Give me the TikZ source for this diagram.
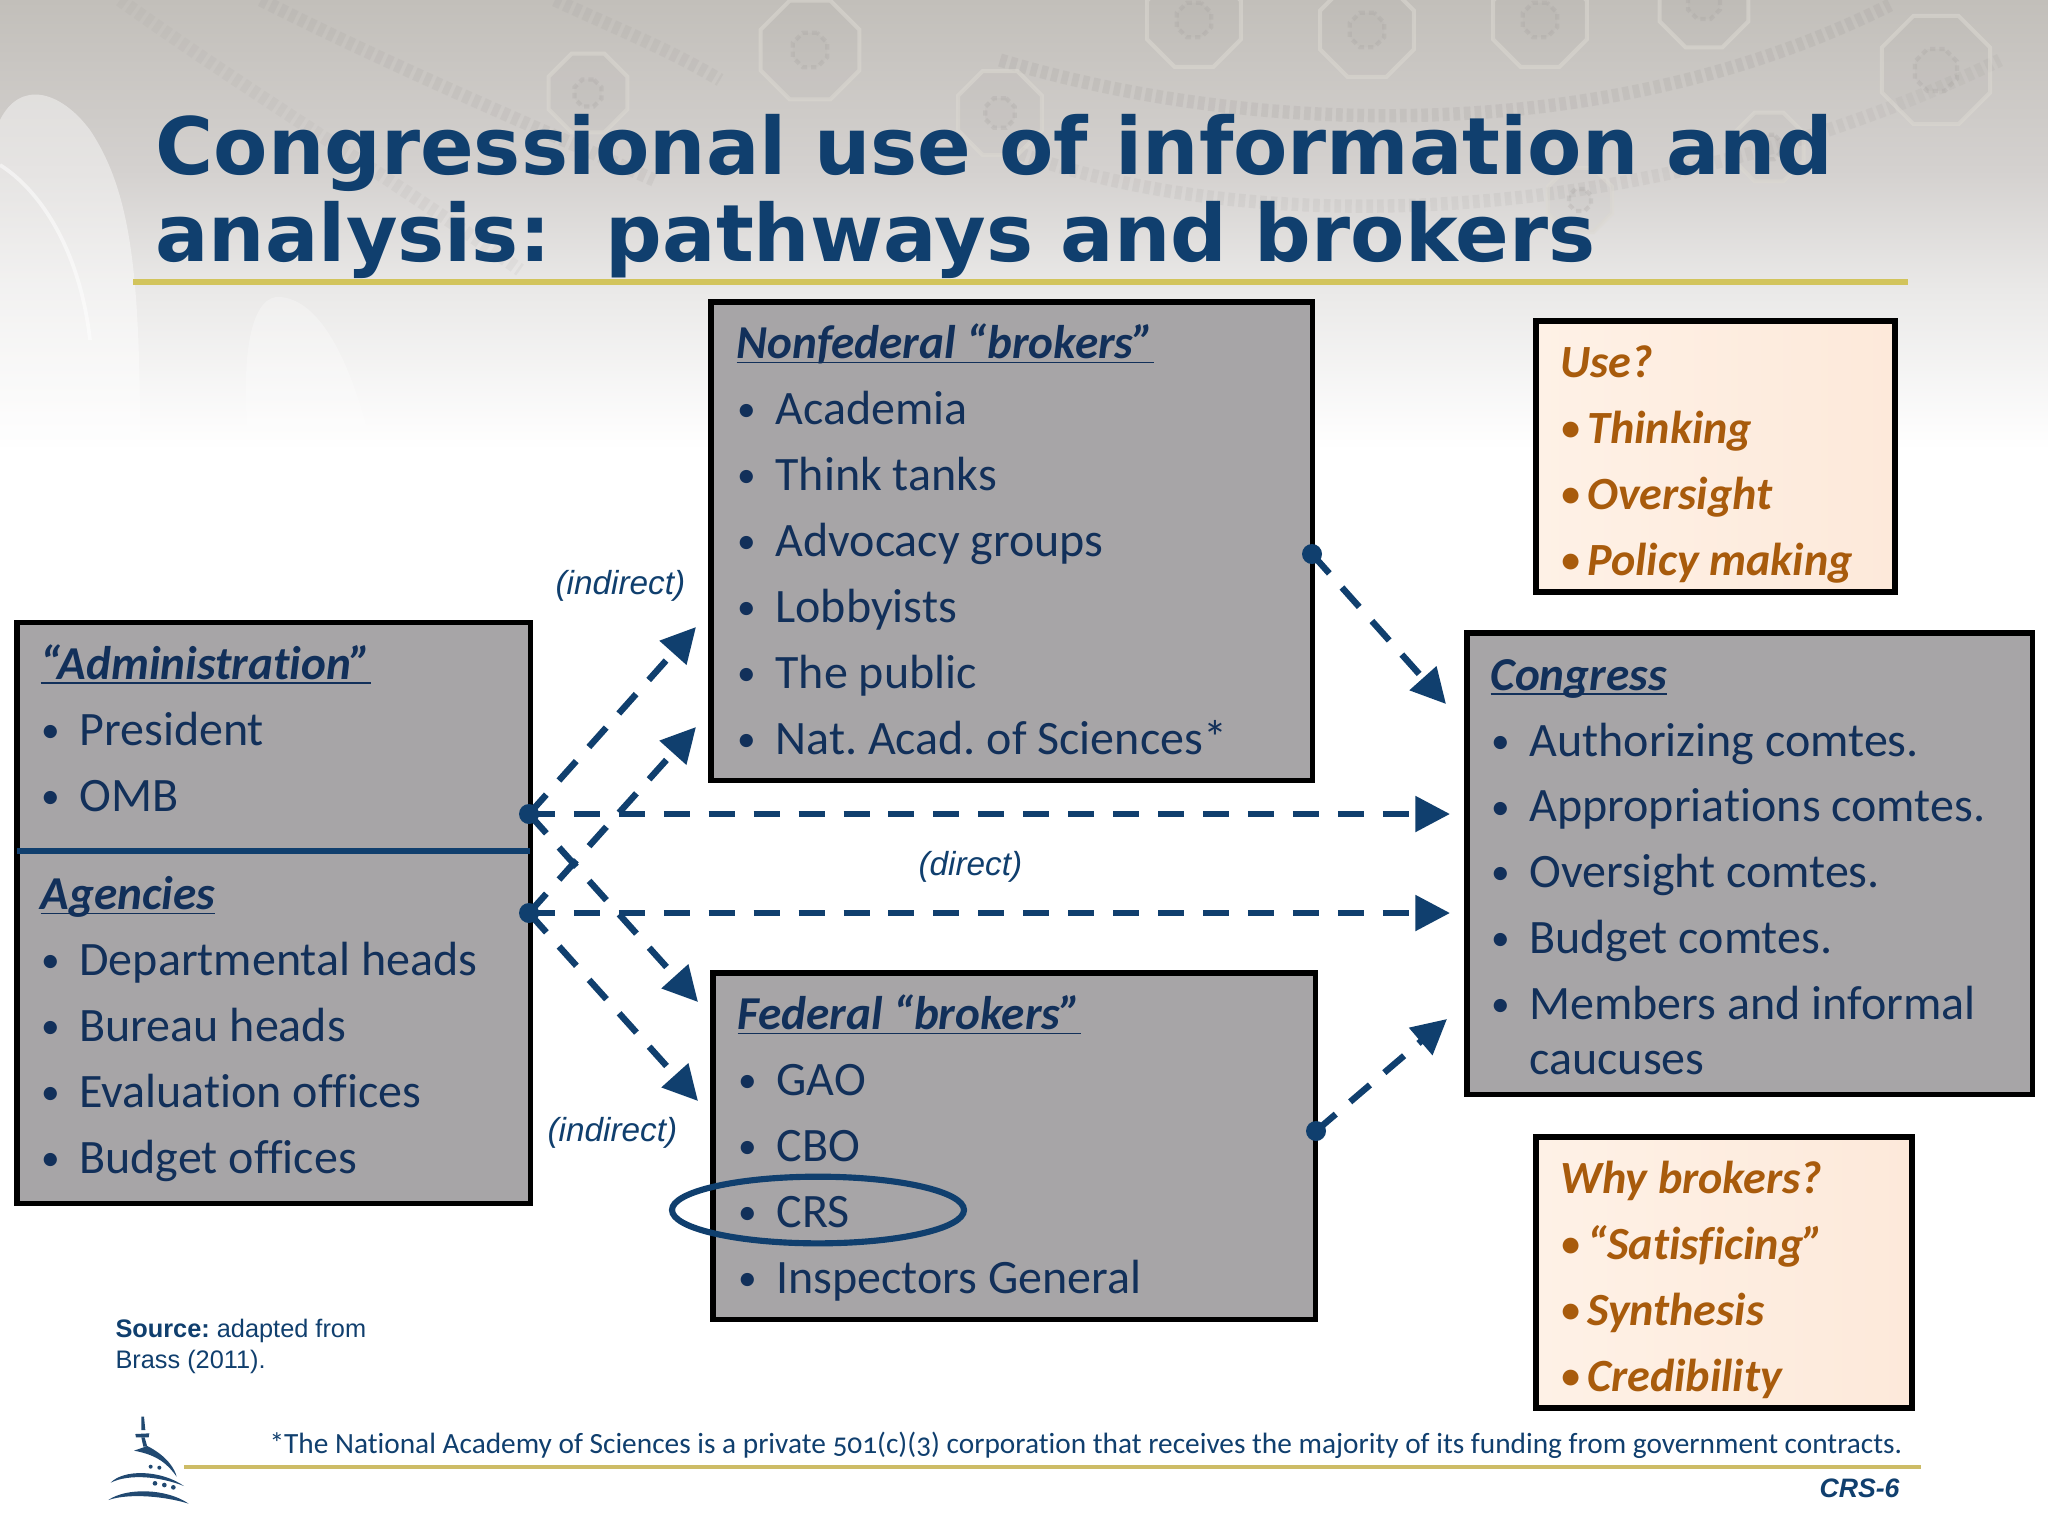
\documentclass[tikz,border=0pt]{standalone}
\usepackage{fontspec}
\setmainfont{Carlito}[Ligatures=NoCommon]
\newfontfamily\titlefont{DejaVu Sans}
\newfontfamily\arialfont{Liberation Sans}
\usetikzlibrary{arrows.meta,shapes.geometric}
\AtBeginDocument{\frenchspacing}
\definecolor{navy}{HTML}{103F6E}
\definecolor{inknavy}{HTML}{12305A}
\definecolor{panelgray}{HTML}{A7A5A7}
\definecolor{peach}{HTML}{FDE9DA}
\definecolor{peachlight}{HTML}{FEF1E6}
\definecolor{ochre}{HTML}{A85B0C}
\definecolor{gold}{HTML}{D2C45C}
\definecolor{footgold}{HTML}{CDBC66}
\definecolor{ornament}{HTML}{A09C9A}
\definecolor{ornlight}{HTML}{DCD9D2}
\newcommand{\hd}[1]{\underline{\smash{\textbf{\textit{\fontsize{17.7}{24.7}\selectfont #1}}}}}
\newcommand{\smallbullet}{\raisebox{1.1pt}{\fontsize{14}{14}\selectfont\textbullet}}
\newcommand{\gb}{\hbox to 14.6pt{\kern0.2pt\smallbullet\hfil}}
\newcommand{\ob}{\hbox to 10pt{\kern0.3pt\smallbullet\hfil}}
\tikzset{
  x=0.375pt,y=-0.375pt,
  panel/.style={draw=black,line width=1.9pt,fill=panelgray,anchor=north west,inner sep=0pt,outer sep=0pt},
  askbox/.style={draw=black,line width=2.25pt,left color=peachlight,right color=peach,anchor=north west,inner sep=0pt,outer sep=0pt},
  paneltext/.style={anchor=base west,align=left,inner sep=0pt,text=inknavy,font=\fontsize{18}{24.7}\selectfont},
  asktext/.style={anchor=base west,align=left,inner sep=0pt,text=ochre,font=\fontsize{17.3}{24.7}\selectfont\bfseries\itshape},
  conn/.style={draw=navy,line width=2.4pt,dash pattern=on 9.75pt off 7.1pt,-{Triangle[length=13pt,width=13pt]}},
  dot/.style={circle,fill=navy,minimum size=7.5pt,inner sep=0pt},
  pathlabel/.style={anchor=base west,inner sep=0pt,text=navy,font=\arialfont\itshape\fontsize{12.5}{14}\selectfont},
  rosette/.style={regular polygon,regular polygon sides=8,draw=ornlight,fill=ornament,fill opacity=.07,draw opacity=.55,line width=1.5pt,inner sep=0pt},
  rosetteinner/.style={regular polygon,regular polygon sides=8,draw=ornament,fill=ornament,fill opacity=.07,draw opacity=.22,line width=1.6pt,dash pattern=on 2pt off 1.5pt,inner sep=0pt},
  band/.style={draw=ornament,draw opacity=.2,line width=5pt,dash pattern=on 2.5pt off 1.5pt},
}
\begin{document}
\begin{tikzpicture}
\useasboundingbox (0,0) rectangle (2048,1536);
% background
\fill[white] (0,0) rectangle (2048,1536);
\shade[top color={rgb,255:red,194;green,191;blue,186},bottom color={rgb,255:red,212;green,209;blue,207}] (0,0) rectangle (2048,170);
\shade[top color={rgb,255:red,212;green,209;blue,207},bottom color={rgb,255:red,234;green,233;blue,232}] (0,170) rectangle (2048,290);
\shade[top color={rgb,255:red,234;green,233;blue,232},bottom color=white] (0,290) rectangle (2048,450);
\begin{scope}
\clip (0,0) rectangle (2048,320);
\draw[band] (1000,60) .. controls (1250,135) and (1600,150) .. (1890,5);
\draw[band,draw opacity=.13] (1010,150) .. controls (1250,240) and (1650,230) .. (2000,60);
\draw[band,draw opacity=.15] (555,0) .. controls (620,30) and (670,50) .. (720,80);
\draw[band,draw opacity=.15] (261,0) .. controls (400,70) and (520,120) .. (654,180);
\draw[band,draw opacity=.1] (120,0) .. controls (260,100) and (380,170) .. (520,270);
\foreach \n/\px/\py/\w/\h in {a/810/50/40/14,b/588/93/32/11,c/1000/113/34/12,d/1194/20/38/14,e/1367/30/38/14,f/1540/20/38/14,g/1704/3/36/13,h/1936/70/44/17,i/1769/147/28/10,j/1580/200/26/9}{
  \node[rosette,minimum size=\w pt] (r\n) at (\px,\py) {};
  \node[rosetteinner,minimum size=\h pt] (s\n) at (\px,\py) {};
}
\end{scope}
\fill[white,opacity=.42] (0,120) .. controls (20,80) and (60,90) .. (90,130) .. controls (130,190) and (140,270) .. (140,440) -- (0,440) -- cycle;
\draw[white,opacity=.5,line width=1.4pt] (0,165) .. controls (40,190) and (80,250) .. (90,340);
\fill[white,opacity=.28] (248,440) .. controls (240,340) and (255,295) .. (280,297) .. controls (320,300) and (350,360) .. (370,440) -- cycle;
% title
\node[anchor=base west,inner sep=0pt,text=navy,font=\titlefont\bfseries\fontsize{29.7}{32.3}\selectfont,align=left] (title) at (155,261) {Congressional use of information and\\analysis:\ \ pathways and brokers};
\coordinate (ruleL) at (133,282); \coordinate (ruleR) at (1908,282);
\draw[gold,line width=1.9pt] (ruleL) -- (ruleR);
% panels
\node[panel,minimum width=192.4pt,minimum height=217.7pt] (adm) at (17,622.5) {};
\node[panel,minimum width=225.7pt,minimum height=179.5pt] (nonfed) at (711,302) {};
\node[panel,minimum width=226.1pt,minimum height=130.1pt] (fed) at (713,973) {};
\node[panel,minimum width=212pt,minimum height=172.9pt] (cong) at (1467,633) {};
\node[askbox,minimum width=134.7pt,minimum height=101.6pt] (use) at (1536,321) {};
\node[askbox,minimum width=141pt,minimum height=101.6pt] (why) at (1536,1137) {};
\coordinate (sepL) at (adm.west |- 0,851); \coordinate (sepR) at (adm.east |- 0,851);
\draw[navy,line width=2.2pt] (sepL) -- (sepR);
% panel texts
\node[paneltext] (admtxt) at (40,811) {\hd{“Administration”}\\\gb President\\\gb OMB};
\node[paneltext] (agtxt) at (40,1173) {\hd{Agencies}\\\gb Departmental heads\\\gb Bureau heads\\\gb Evaluation offices\\\gb Budget offices};
\node[paneltext] (nftxt) at (736,754) {\hd{Nonfederal “brokers”}\\\gb Academia\\\gb Think tanks\\\gb Advocacy groups\\\gb Lobbyists\\\gb The public\\\gb Nat. Acad. of Sciences*};
\node[paneltext] (fedtxt) at (737,1293) {\hd{Federal “brokers”}\\\gb GAO\\\gb CBO\\\gb CRS\\\gb Inspectors General};
\node[paneltext] (congtxt) at (1490,1074.5) {\hd{Congress}\\\gb Authorizing comtes.\\\gb Appropriations comtes.\\\gb Oversight comtes.\\\gb Budget comtes.\\\gb Members and informal\\[-4.1pt]\hbox to 14.6pt{\hfil}caucuses};
\node[asktext] (usetxt) at (1560,575) {Use?\\\ob Thinking\\\ob Oversight\\\ob Policy making};
\node[asktext] (whytxt) at (1560,1391) {Why brokers?\\\ob “Satisficing”\\\ob Synthesis\\\ob Credibility};
% CRS ring
\node[ellipse,draw=navy,line width=2.3pt,minimum width=109.5pt,minimum height=25pt,inner sep=0pt] (ring) at (818,1210) {};
% connectors
\node[dot] (d1) at (529,814) {};
\node[dot] (d2) at (529,913) {};
\node[dot] (d3) at (1312,554) {};
\node[dot] (d4) at (1316,1131) {};
\coordinate (t1) at (696,627);
\coordinate (t2) at (696,727);
\coordinate (t3) at (698,1002);
\coordinate (t4) at (698,1101);
\coordinate (t5) at (1450,814);
\coordinate (t6) at (1450,913);
\coordinate (t7) at (1446,704);
\coordinate (t8) at (1447,1019);
\draw[conn] (d1.center) -- (t1);
\draw[conn] (d2.center) -- (t2);
\draw[conn] (d1.center) -- (t3);
\draw[conn] (d2.center) -- (t4);
\draw[conn] (d1.center) -- (t5);
\draw[conn] (d2.center) -- (t6);
\draw[conn] (d3.center) -- (t7);
\draw[conn] (d4.center) -- (t8);
\node[pathlabel] (l1) at (555,594) {(indirect)};
\node[pathlabel] (l2) at (547,1141) {(indirect)};
\node[pathlabel] (l3) at (918,875) {(direct)};
% source
\node[anchor=base west,inner sep=0pt,align=left,text=navy,font=\arialfont\fontsize{9.5}{11.6}\selectfont] (src) at (115,1368) {\textbf{Source:} adapted from\\Brass (2011).};
% footer
\coordinate (footL) at (184,1467); \coordinate (footR) at (1921,1467);
\draw[footgold,line width=1.7pt] (footL) -- (footR);
\node[anchor=base west,inner sep=0pt,text=navy,font=\fontsize{11}{13}\selectfont] (foot) at (269,1453) {\addfontfeature{Numbers=OldStyle}*The National Academy of Sciences is a private 501(c)(3) corporation that receives the majority of its funding from government contracts.};
\node[anchor=base west,inner sep=0pt,text=navy,font=\arialfont\bfseries\itshape\fontsize{10}{12}\selectfont] (crs) at (1819,1497) {CRS-6};
% capitol logo
\begin{scope}[shift={(60,1300)},x=0.125pt,y=-0.125pt,navy!85!gray]
\fill (244,350) -- (252,350) -- (256,390) -- (244,390) -- cycle;
\fill (226,402) -- (268,400) -- (266,412) -- (228,412) -- cycle;
\fill (244,412) -- (254,412) -- (262,440) -- (250,440) -- cycle;
\fill (222,452) -- (262,438) .. controls (325,470) and (345,510) .. (350,530) .. controls (325,495) and (295,465) .. (222,452) -- cycle;
\fill (152,548) .. controls (190,508) and (300,508) .. (372,558) .. controls (300,530) and (210,520) .. (152,548) -- cycle;
\fill (145,600) .. controls (200,562) and (320,565) .. (386,611) .. controls (320,590) and (210,578) .. (145,600) -- cycle;
\fill (272,500) circle (6);
\fill (298,503) circle (6);
\fill (285,550) circle (7);
\fill (313,555) circle (7);
\fill (340,562) circle (7);
\end{scope}
\end{tikzpicture}
\end{document}
